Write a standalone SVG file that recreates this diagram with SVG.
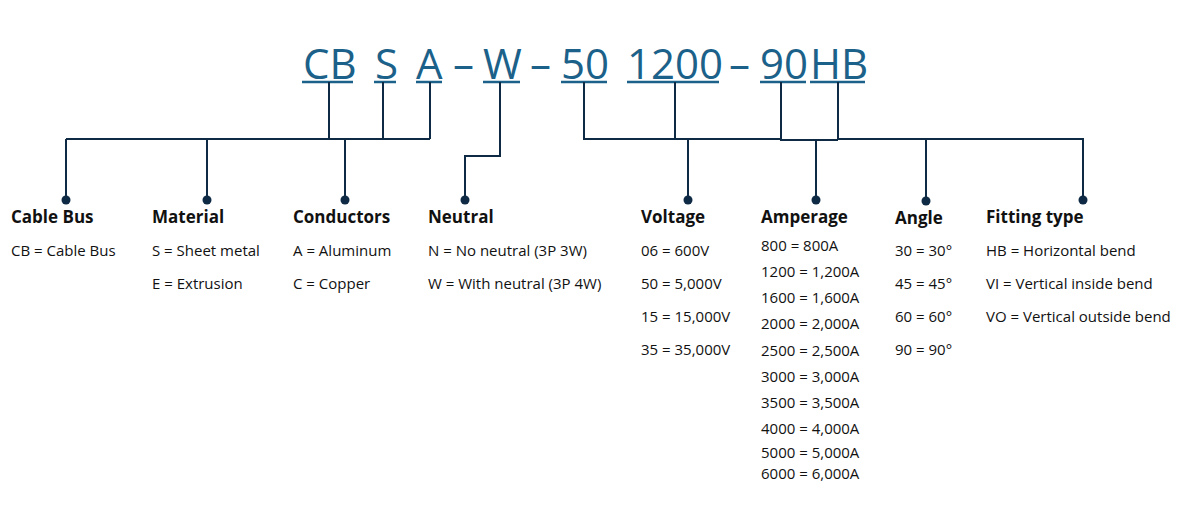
<svg xmlns="http://www.w3.org/2000/svg" width="1191" height="511" viewBox="0 0 1191 511">
<style>
.code{font-family:"Open Sans","Noto Sans",sans-serif;font-size:42px;fill:#1b6189}
.ul{stroke:#1b6189;stroke-width:2.5}
.ln{stroke:#0f2a44;stroke-width:2;fill:none}
.dot{fill:#0f2a44}
.h{font-family:"Open Sans","Noto Sans",sans-serif;font-size:17px;font-weight:bold;fill:#111}
.t{font-family:"Open Sans","Noto Sans",sans-serif;font-size:15px;fill:#111}
</style>
<rect width="1191" height="511" fill="#fff"/>
<g id="code">
<text class="code" x="303" y="79">CB</text>
<text class="code" x="375" y="79">S</text>
<text class="code" x="416" y="79">A</text>
<text class="code" x="453" y="79">–</text>
<text class="code" x="483" y="79">W</text>
<text class="code" x="530" y="79">–</text>
<text class="code" x="561" y="79">50</text>
<text class="code" x="627" y="79">1200</text>
<text class="code" x="729" y="79">–</text>
<text class="code" x="760" y="79">90</text>
<text class="code" x="810" y="79">HB</text>
<line class="ul" x1="302" y1="82" x2="353" y2="82"/>
<line class="ul" x1="374" y1="82" x2="396" y2="82"/>
<line class="ul" x1="416" y1="82" x2="442" y2="82"/>
<line class="ul" x1="483" y1="82" x2="520" y2="82"/>
<line class="ul" x1="561" y1="82" x2="607" y2="82"/>
<line class="ul" x1="627" y1="82" x2="719" y2="82"/>
<line class="ul" x1="760" y1="82" x2="806" y2="82"/>
<line class="ul" x1="810" y1="82" x2="865" y2="82"/>
</g>
<g id="connectors">
<path class="ln" d="M329 82V139M383 82V139M430 82V139M66 139H430M66 139V200M207 139V200M345 139V200"/>
<path class="ln" d="M500 82V156H465V200"/>
<path class="ln" d="M584 82V139H781M675 82V139M688 139V200M781 82V140H838M838 82V139H1083V200M816 140V200M926 139V200"/>
<circle class="dot" cx="66" cy="200" r="4.5"/>
<circle class="dot" cx="207" cy="200" r="4.5"/>
<circle class="dot" cx="345" cy="200" r="4.5"/>
<circle class="dot" cx="465" cy="200" r="4.5"/>
<circle class="dot" cx="688" cy="200" r="4.5"/>
<circle class="dot" cx="816" cy="200" r="4.5"/>
<circle class="dot" cx="926" cy="201" r="4.5"/>
<circle class="dot" cx="1083" cy="200" r="4.5"/>
</g>
<g id="cablebus"><text class="h" x="11" y="223">Cable Bus</text><text class="t" x="11" y="256">CB = Cable Bus</text></g>
<g id="material"><text class="h" x="152" y="223">Material</text><text class="t" x="152" y="256">S = Sheet metal</text><text class="t" x="152" y="289">E = Extrusion</text></g>
<g id="conductors"><text class="h" x="293" y="223">Conductors</text><text class="t" x="293" y="256">A = Aluminum</text><text class="t" x="293" y="289">C = Copper</text></g>
<g id="neutral"><text class="h" x="428" y="223">Neutral</text><text class="t" x="428" y="256">N = No neutral (3P 3W)</text><text class="t" x="428" y="289">W = With neutral (3P 4W)</text></g>
<g id="voltage"><text class="h" x="641" y="223">Voltage</text><text class="t" x="641" y="256">06 = 600V</text><text class="t" x="641" y="289">50 = 5,000V</text><text class="t" x="641" y="322">15 = 15,000V</text><text class="t" x="641" y="355">35 = 35,000V</text></g>
<g id="amperage"><text class="h" x="761" y="223">Amperage</text>
<text class="t" x="761" y="251">800 = 800A</text><text class="t" x="761" y="277">1200 = 1,200A</text><text class="t" x="761" y="303">1600 = 1,600A</text><text class="t" x="761" y="329">2000 = 2,000A</text><text class="t" x="761" y="356">2500 = 2,500A</text><text class="t" x="761" y="382">3000 = 3,000A</text><text class="t" x="761" y="408">3500 = 3,500A</text><text class="t" x="761" y="434">4000 = 4,000A</text><text class="t" x="761" y="458">5000 = 5,000A</text><text class="t" x="761" y="479">6000 = 6,000A</text></g>
<g id="angle"><text class="h" x="895" y="224">Angle</text><text class="t" x="895" y="256">30 = 30°</text><text class="t" x="895" y="289">45 = 45°</text><text class="t" x="895" y="322">60 = 60°</text><text class="t" x="895" y="355">90 = 90°</text></g>
<g id="fitting"><text class="h" x="986" y="223">Fitting type</text><text class="t" x="986" y="256">HB = Horizontal bend</text><text class="t" x="986" y="289">VI = Vertical inside bend</text><text class="t" x="986" y="322">VO = Vertical outside bend</text></g>
</svg>
